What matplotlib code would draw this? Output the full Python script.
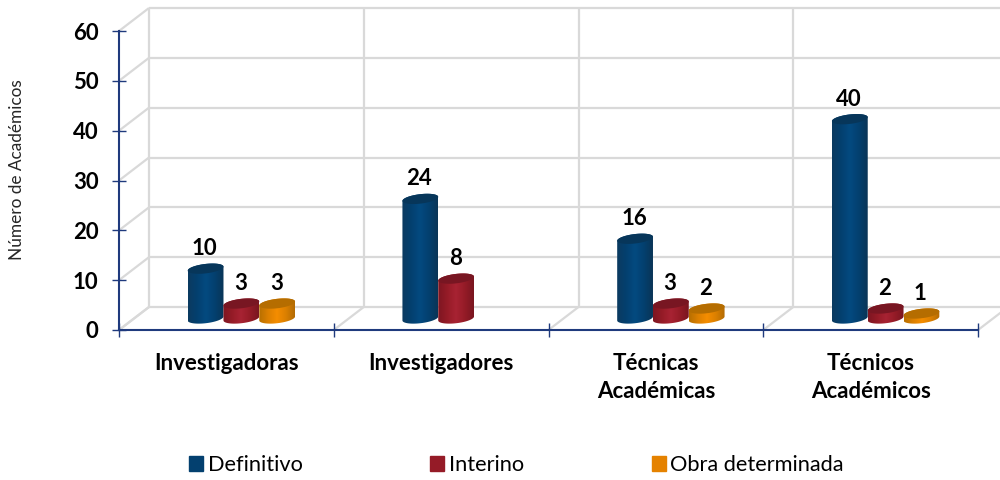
import matplotlib
matplotlib.use("Agg")
import matplotlib.pyplot as plt
import numpy as np
from matplotlib.colors import LinearSegmentedColormap
from matplotlib.patches import Patch, Polygon

categories = ["Investigadoras", "Investigadores", "Técnicas\nAcadémicas", "Técnicos\nAcadémicos"]
series_names = ["Definitivo", "Interino", "Obra determinada"]
definitivo = [10, 24, 16, 40]
interino = [3, 8, 3, 2]
obra = [3, None, 2, 1]
y_ticks = [0, 10, 20, 30, 40, 50, 60]

legend_colors = ["#03406F", "#951B27", "#E58200"]
body_colors = [
    ["#0B3A60", "#03406F", "#044A80", "#03406F", "#0A3557"],
    ["#7E1622", "#951B27", "#A82333", "#951B27", "#7A1620"],
    ["#B86F00", "#DC8000", "#F58D00", "#DC8000", "#B46C04"],
]
top_colors = ["#07365A", "#781622", "#B56D00"]

GRID = "#D9D9D9"
AXIS = "#1F3A7D"

plt.rcParams["font.family"] = ["Lato", "DejaVu Sans"]

fig = plt.figure(figsize=(10, 4.8), dpi=100)
ax = fig.add_axes([0.119, 150 / 480, 0.859, 299 / 480])
ax.set_xlim(0, 4)
ax.set_ylim(0, 60)
ax.patch.set_visible(False)

# depth of the 3D box, in data units
depth_x = 30 / 214.75
depth_y = 23 / (299 / 60)


def wall_line(xs, ys):
    ax.plot(xs, ys, color=GRID, lw=1.6, clip_on=False, zorder=1, solid_capstyle="butt")


for v in y_ticks:
    wall_line([0, depth_x], [v, v + depth_y])
    wall_line([depth_x, 4 + depth_x], [v + depth_y, v + depth_y])
for c in range(5):
    wall_line([c + depth_x, c + depth_x], [depth_y, 60 + depth_y])
    wall_line([c, c + depth_x], [0, depth_y])


def cylinder(xc, height, idx):
    a = 1 / 12
    b = 0.95
    tilt = 0.4
    base = depth_y / 2

    t1 = np.linspace(np.pi, 2 * np.pi, 40)
    t2 = np.linspace(0, np.pi, 40)
    px = np.r_[xc + a * np.cos(t1), xc + a * np.cos(t2)]
    py = np.r_[base + b * np.sin(t1) + tilt * np.cos(t1),
               base + height + b * np.sin(t2) + tilt * np.cos(t2)]
    outline = Polygon(np.c_[px, py], closed=True, transform=ax.transData, fc="none", ec="none")
    ax.add_patch(outline)

    cmap = LinearSegmentedColormap.from_list("c", body_colors[idx])
    grad = np.linspace(0, 1, 64).reshape(1, -1)
    im = ax.imshow(grad, cmap=cmap, aspect="auto", interpolation="bilinear", zorder=3,
                   extent=(xc - a, xc + a, base - 2, base + height + 2))
    im.set_clip_path(outline)

    t = np.linspace(0, 2 * np.pi, 80)
    ax.fill(xc + a * np.cos(t), base + height + b * np.sin(t) + tilt * np.cos(t),
            color=top_colors[idx], lw=0, zorder=4)


for idx, values in enumerate([definitivo, interino, obra]):
    for c, value in enumerate(values):
        if value is None:
            continue
        xc = c + 0.5 + (idx - 1) / 6 + depth_x / 2
        cylinder(xc, value, idx)
        ax.annotate(str(value), (xc, value + depth_y / 2), xytext=(-0.7, 14.5), textcoords="offset points",
                    ha="center", va="center", fontsize=16, fontweight="bold", color="black",
                    annotation_clip=False, zorder=6)

ax.set_xlim(0, 4)
ax.set_ylim(0, 60)

for side in ["top", "right"]:
    ax.spines[side].set_visible(False)
for side in ["left", "bottom"]:
    ax.spines[side].set_color(AXIS)
    ax.spines[side].set_linewidth(1.5)
    ax.spines[side].set_zorder(5)

ax.set_yticks(y_ticks)
ax.set_yticklabels([str(v) for v in y_ticks], fontsize=16, fontweight="bold", va="center_baseline")
ax.tick_params(axis="y", direction="inout", length=10.5, width=1, color=AXIS, pad=9.5)
ax.set_xticks(range(5))
ax.set_xticklabels([])
ax.tick_params(axis="x", direction="inout", length=10.5, width=1, color=AXIS)
ax.set_xticks(np.arange(4) + 0.5, minor=True)
ax.set_xticklabels(categories, minor=True, fontsize=16, fontweight="bold", linespacing=1.4)
ax.tick_params(axis="x", which="minor", length=0, pad=16.5)

fig.text(0.017, 1 - 170 / 480, "Número de Académicos", rotation=90, ha="center", va="center",
         fontsize=12.4, color="#262626")

handles = [Patch(color=col) for col in legend_colors]
fig.legend(handles, series_names, ncols=3, frameon=False, fontsize=15.7,
           loc="center left", bbox_to_anchor=(0.189, 1 - 465 / 480),
           handlelength=0.64, handleheight=0.64, handletextpad=0.22, columnspacing=5.85,
           borderpad=0, borderaxespad=0)

fig.savefig("out.png", dpi=100)
